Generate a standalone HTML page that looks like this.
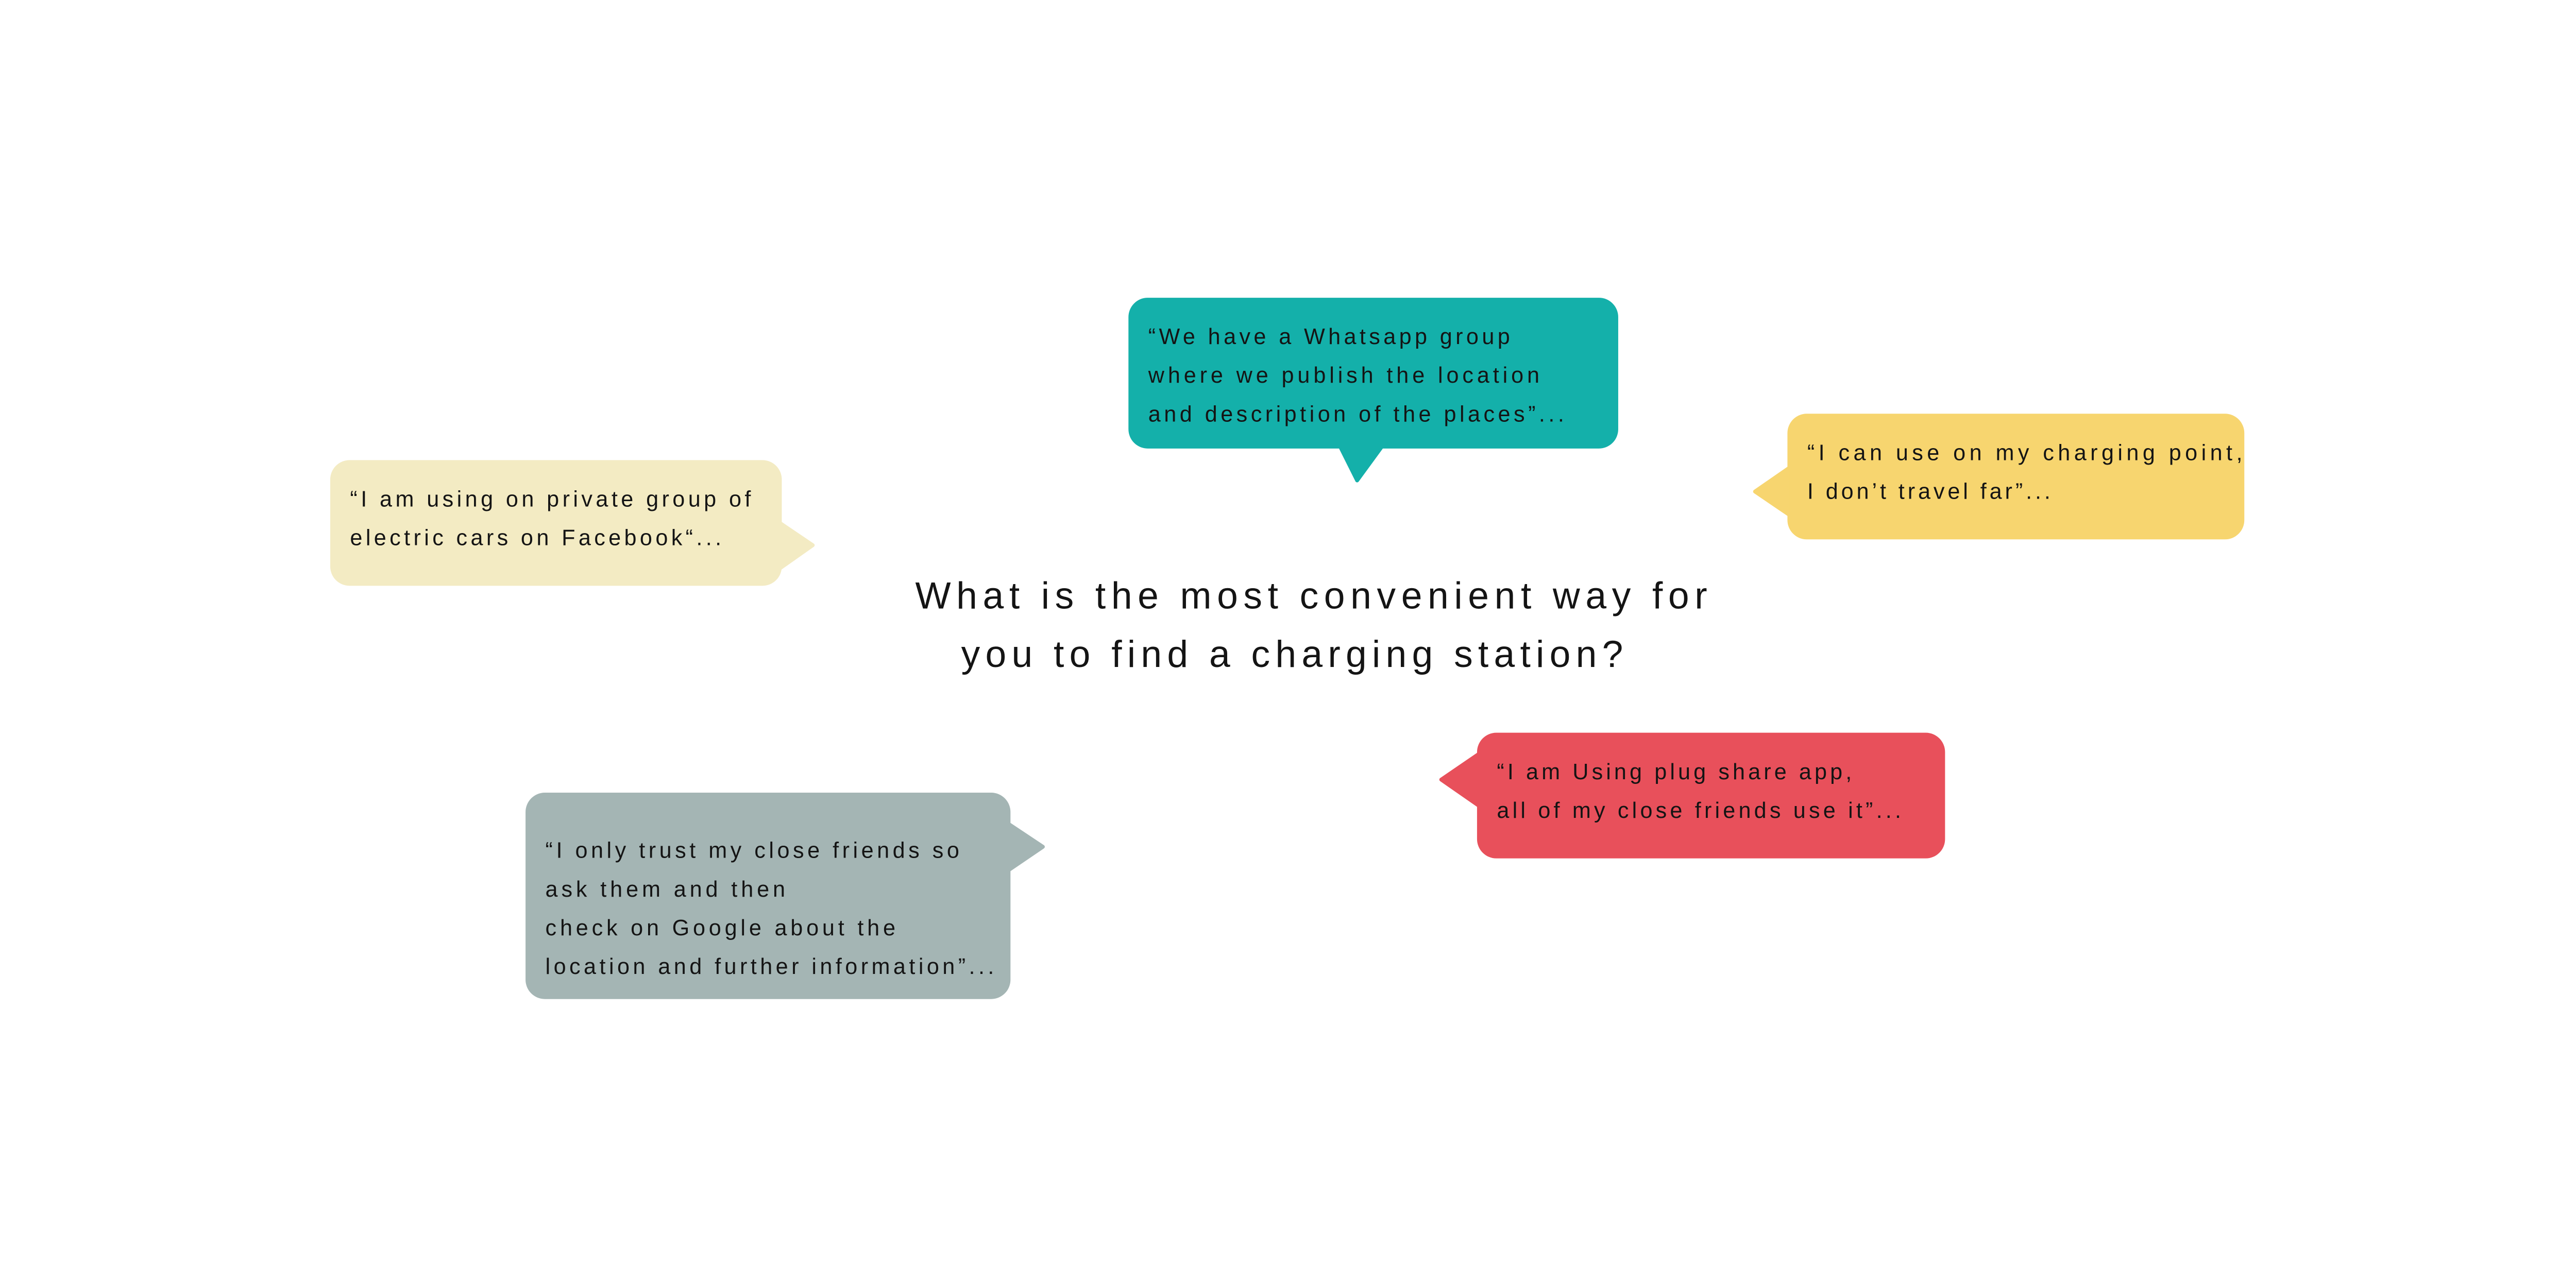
<!DOCTYPE html>
<html><head><meta charset="utf-8"><style>
html,body{margin:0;padding:0;background:#fff;width:100%;height:100%;overflow:hidden}
svg{display:block;width:100vw;height:100vh}
text{font-family:"Liberation Sans",sans-serif;fill:#141414;font-size:46px}
.t{font-size:78px}
</style></head><body>
<svg viewBox="0 0 5328 2460" preserveAspectRatio="xMidYMin meet" xmlns="http://www.w3.org/2000/svg">
<rect width="5328" height="2460" fill="#fff"/>
<!-- teal -->
<g fill="#14b0aa" stroke="#14b0aa" stroke-linejoin="round">
<rect x="2334" y="616" width="1013" height="312" rx="40" stroke-width="0"/>
<polygon points="2770,920 2861,920 2807,994" stroke-width="8"/>
</g>
<text x="2375" y="712" textLength="748" lengthAdjust="spacing">“We have a Whatsapp group</text>
<text x="2375" y="792" textLength="809" lengthAdjust="spacing">where we publish the location</text>
<text x="2375" y="872" textLength="860" lengthAdjust="spacing">and description of the places”...</text>
<!-- beige -->
<g fill="#f3ebc3" stroke="#f3ebc3" stroke-linejoin="round">
<rect x="683" y="952" width="934" height="260" rx="40" stroke-width="0"/>
<polygon points="1610,1080 1610,1178 1681,1128" stroke-width="8"/>
</g>
<text x="724" y="1048" textLength="829" lengthAdjust="spacing">“I am using on private group of</text>
<text x="724" y="1128" textLength="768" lengthAdjust="spacing">electric cars on Facebook“...</text>
<!-- yellow -->
<g fill="#f7d56f" stroke="#f7d56f" stroke-linejoin="round">
<rect x="3697" y="856" width="945" height="260" rx="40" stroke-width="0"/>
<polygon points="3705,965 3705,1068 3630,1017" stroke-width="8"/>
</g>
<text x="3738" y="952" textLength="900" lengthAdjust="spacing">“I can use on my charging point,</text>
<text x="3738" y="1032" textLength="503" lengthAdjust="spacing">I don’t travel far”...</text>
<!-- red -->
<g fill="#e8505b" stroke="#e8505b" stroke-linejoin="round">
<rect x="3055" y="1516" width="968" height="260" rx="40" stroke-width="0"/>
<polygon points="3063,1557 3063,1670 2981,1613" stroke-width="8"/>
</g>
<text x="3096" y="1612" textLength="734" lengthAdjust="spacing">“I am Using plug share app,</text>
<text x="3096" y="1692" textLength="836" lengthAdjust="spacing">all of my close friends use it”...</text>
<!-- gray -->
<g fill="#a4b5b4" stroke="#a4b5b4" stroke-linejoin="round">
<rect x="1087" y="1640" width="1003" height="427" rx="40" stroke-width="0"/>
<polygon points="2082,1702 2082,1803 2157,1752" stroke-width="8"/>
</g>
<text x="1128" y="1775" textLength="856" lengthAdjust="spacing">“I only trust my close friends so</text>
<text x="1128" y="1855" textLength="496" lengthAdjust="spacing">ask them and then</text>
<text x="1128" y="1935" textLength="724" lengthAdjust="spacing">check on Google about the</text>
<text x="1128" y="2015" textLength="928" lengthAdjust="spacing">location and further information”...</text>
<!-- title -->
<text class="t" x="1893" y="1259" textLength="1638" lengthAdjust="spacing">What is the most convenient way for</text>
<text class="t" x="1988" y="1380" textLength="1369" lengthAdjust="spacing">you to find a charging station?</text>
</svg>
</body></html>
